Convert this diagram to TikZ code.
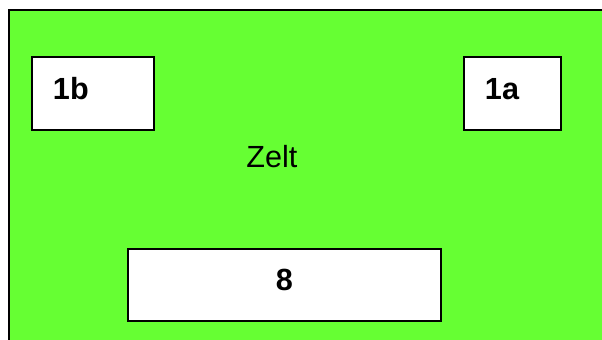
\documentclass[tikz,border=0pt]{standalone}
\usepackage{fontspec}
\setmainfont{Liberation Sans}
\usepackage{tikz}
\usetikzlibrary{positioning}
\definecolor{tentgreen}{HTML}{66FF33}
\newlength{\ZeltUnit}
\setlength{\ZeltUnit}{0.5pt}
\newcommand{\ZeltFont}{\fontsize{15.3pt}{18pt}\selectfont}

\begin{document}
\begin{tikzpicture}[x=\ZeltUnit,y=\ZeltUnit]
    \tikzset{
        tent area/.style={fill=tentgreen, draw=none},
        tent border/.style={draw=black, line width=1pt},
        plot box/.style={draw=black, fill=white, line width=0.75pt,
            minimum height=73\ZeltUnit, inner xsep=21\ZeltUnit,
            text depth=10\ZeltUnit, font=\ZeltFont\bfseries, align=left},
        plot label/.style={font=\ZeltFont}
    }
    \useasboundingbox (0,0) rectangle (602,340);
    % green tent area, border only on top and left
    \path[tent area] (9,0) rectangle (602,330);
    \draw[tent border] (9,0) -- (9,330) -- (602,330);
    \node[plot box, minimum width=122\ZeltUnit, text width=80\ZeltUnit]
        (plot-1b) at (93,246.5) {1b};
    \node[plot box, minimum width=97\ZeltUnit, text width=55\ZeltUnit]
        (plot-1a) at (512.5,246.5) {1a};
    \node[plot box, minimum width=313\ZeltUnit, minimum height=72\ZeltUnit, align=center]
        (plot-8) at (284.5,55) {8};
    \node[plot label] (tent-label) at (272,183) {Zelt};
\end{tikzpicture}
\end{document}
